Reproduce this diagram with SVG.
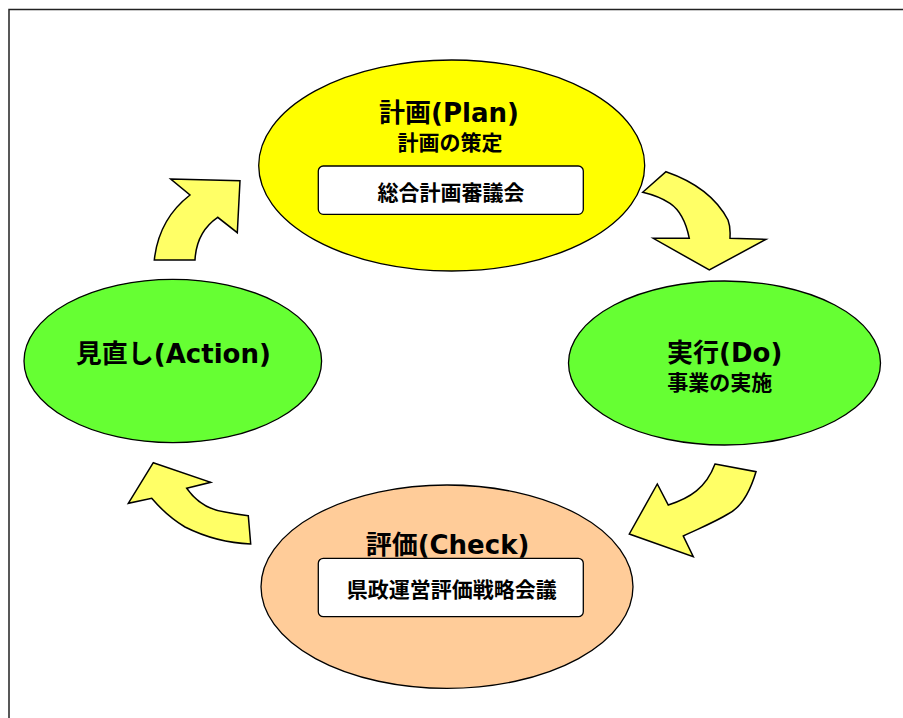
<svg xmlns="http://www.w3.org/2000/svg" width="903" height="718" viewBox="0 0 903 718">
<defs>
<style>
.node{stroke:#000;stroke-width:1.3}
.arrow{fill:#FFFF66;stroke:#000;stroke-width:1.5;stroke-linejoin:miter}
.box{fill:#fff;stroke:#000;stroke-width:1.3}
.t{font-family:"DejaVu Sans","Noto Sans CJK JP",sans-serif;font-weight:bold;fill:#000;text-anchor:middle}
.h{font-size:26px}
.s{font-size:21px}
</style>
</defs>
<rect width="903" height="718" fill="#fff"/>
<path d="M9,718 L9,9.5 L903,9.5" fill="none" stroke="#222" stroke-width="1.5"/>
<g id="connectors">
<path class="arrow" d="M170.7,179 L240,180.7 L237.3,232.7 L217.7,217.3 C205,226 196,240 195,260 L154.3,260 C157,235 168,212 190,195 Z"/>
<path class="arrow" d="M666,171.7 C690,180 715,195 728,220 C731,228 730,233 730,238.3 L766,239.3 L709.3,270 L653.3,238.3 L689.3,238.3 C686,222 680,210 670,203.3 C660,197 650,194 642.7,192.3 Z"/>
<path class="arrow" d="M715,464 L756,471.7 C750,492 740,508 728,514 C715,522 700,528 683.3,536 L693.3,556.7 L629.3,534 L657.3,484 L668.3,505 C690,498 706,488 715,464 Z"/>
<path class="arrow" d="M153.3,462.7 L210.7,482.3 L186.7,488.3 C197,503 210,510 225,512 C235,514 242,515 248.3,515.7 L250.7,544 C225,543 205,537 185,527 C170,518 160,508 151.7,498.3 L128.3,503.3 Z"/>
</g>
<g id="plan">
<ellipse class="node" cx="451.7" cy="165.5" rx="193" ry="105.5" fill="#FFFF00"/>
<text class="t h" x="449" y="121.5">計画(Plan)</text>
<text class="t s" x="450" y="150">計画の策定</text>
<rect class="box" x="318.3" y="166" width="265" height="48.3" rx="5"/>
<text class="t s" x="451" y="200">総合計画審議会</text>
</g>
<g id="do">
<ellipse class="node" cx="724.5" cy="363" rx="156" ry="82" fill="#66FF33"/>
<text class="t h" x="724.7" y="362">実行(Do)</text>
<text class="t s" x="719.7" y="390">事業の実施</text>
</g>
<g id="check">
<ellipse class="node" cx="447" cy="586.7" rx="186" ry="101.7" fill="#FFCC99"/>
<text class="t h" x="447.5" y="554">評価(Check)</text>
<rect class="box" x="318.3" y="558.3" width="265" height="58.4" rx="5"/>
<text class="t s" x="451.7" y="596.5">県政運営評価戦略会議</text>
</g>
<g id="action">
<ellipse class="node" cx="172.8" cy="361" rx="148.8" ry="81.7" fill="#66FF33"/>
<text class="t h" x="173.3" y="362.5">見直し(Action)</text>
</g>
</svg>
